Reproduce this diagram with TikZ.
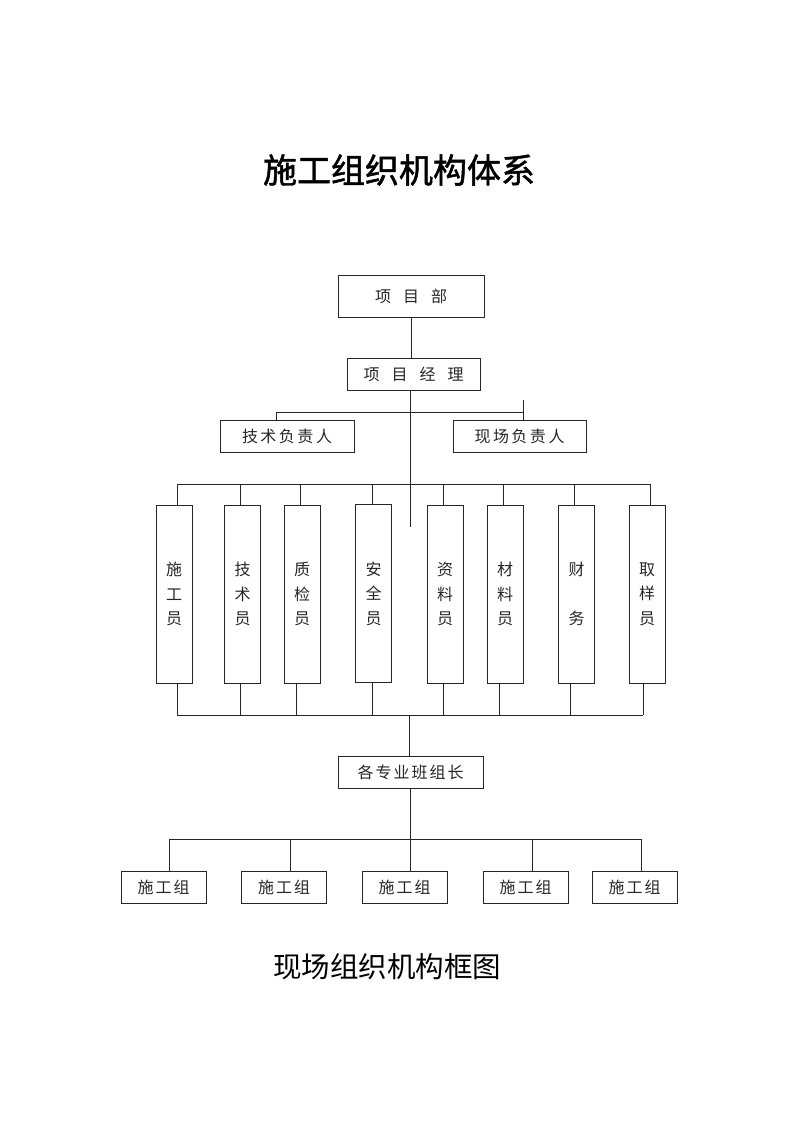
\documentclass[tikz,border=0pt]{standalone}
\usepackage{fontspec}
\setmainfont{Noto Sans CJK SC}
\newfontfamily\titlefont[FakeBold=1.4]{Noto Sans CJK SC}
\usetikzlibrary{calc}
\begin{document}
\begin{tikzpicture}[x=1pt,y=-1pt,
  box/.style={draw=black!85,line width=0.9pt,inner sep=0pt,text=black!85,
    font=\fontsize{16}{24.5}\selectfont},
  vbox/.style={box,minimum width=36pt,minimum height=178pt,align=center},
  gbox/.style={box,minimum height=32pt,minimum width=85pt},
  conn/.style={draw=black!85,line width=0.9pt}]
\useasboundingbox (0,0) rectangle (800,1132);
% titles
\node[font=\titlefont\fontsize{34}{34}\selectfont] (title) at (399,170) {施工组织机构体系};
\node[font=\fontsize{28.5}{28.5}\selectfont] (caption) at (387,967) {现场组织机构框图};
% upper boxes
\node[box,minimum width=146pt,minimum height=42pt] (pd) at (411,296) {项\hspace{12pt}目\hspace{12pt}部};
\node[box,minimum width=133pt,minimum height=32pt] (pm) at (413.5,374) {项\hspace{12pt}目\hspace{12pt}经\hspace{12pt}理};
\node[box,minimum width=134pt,minimum height=32pt] (tech) at (287,436) {技\kern2.5pt术\kern2.5pt负\kern2.5pt责\kern2.5pt人};
\node[box,minimum width=133pt,minimum height=32pt] (site) at (519.5,436) {现\kern2.5pt场\kern2.5pt负\kern2.5pt责\kern2.5pt人};
% vertical boxes
\node[vbox] (v1) at (174,594) {施\\工\\员};
\node[vbox] (v2) at (242.5,594) {技\\术\\员};
\node[vbox] (v3) at (302,594) {质\\检\\员};
\node[vbox] (v4) at (373.5,593.5) {安\\全\\员};
\node[vbox] (v5) at (445,594) {资\\料\\员};
\node[vbox] (v6) at (505,594) {材\\料\\员};
\node[vbox] (v7) at (576.5,594) {财\\\mbox{}\\务};
\node[vbox] (v8) at (647,594) {取\\样\\员};
% team leader and groups
\node[box,minimum width=145pt,minimum height=32pt] (bz) at (410.5,772) {各\kern2pt专\kern2pt业\kern2pt班\kern2pt组\kern2pt长};
\node[gbox] (g1) at (163.5,887) {施\kern2pt工\kern2pt组};
\node[gbox] (g2) at (284,887) {施\kern2pt工\kern2pt组};
\node[gbox] (g3) at (404.5,887) {施\kern2pt工\kern2pt组};
\node[gbox] (g4) at (525.5,887) {施\kern2pt工\kern2pt组};
\node[gbox] (g5) at (634.5,887) {施\kern2pt工\kern2pt组};
% connectors: top part
\draw[conn] (pd.south) -- (pd.south |- pm.north);
\coordinate (c1) at (410,527);
\draw[conn] (c1 |- pm.south) -- (c1);
\coordinate (hL) at (276,412);
\coordinate (hR) at (523,412);
\coordinate (hRt) at (523,400);
\draw[conn] (hL |- tech.north) -- (hL) -- (hR) -- (hR |- site.north);
\draw[conn] (hR) -- (hRt);
% connectors: vertical boxes
\coordinate (tL) at (0,484);
\coordinate (bL) at (0,715);
\foreach \n/\dt/\db in {v1/3/3,v2/-2.5/-2.5,v3/-2/-6,v4/-1.5/-1.5,v5/-2/-2,v6/-2/-6,v7/-2.5/-6.5,v8/3/-4}{
  \coordinate (t\n) at ($(\n.north)+(\dt,0)$);
  \coordinate (b\n) at ($(\n.south)+(\db,0)$);
  \draw[conn] (t\n) -- (t\n |- tL);
  \draw[conn] (b\n) -- (b\n |- bL);
}
\draw[conn] (tv1 |- tL) -- (tv8 |- tL);
\draw[conn] (bv1 |- bL) -- (bv8 |- bL);
\coordinate (c2) at (409,715);
\draw[conn] (c2) -- (c2 |- bz.north);
% connectors: groups
\coordinate (gL) at (0,839);
\draw[conn] (bz.south) -- (bz.south |- g3.north);
\foreach \n/\d in {g1/6,g2/6,g4/6.5,g5/6.5}{
  \coordinate (t\n) at ($(\n.north)+(\d,0)$);
  \draw[conn] (t\n) -- (t\n |- gL);
}
\draw[conn] (tg1 |- gL) -- (tg5 |- gL);
\end{tikzpicture}
\end{document}
